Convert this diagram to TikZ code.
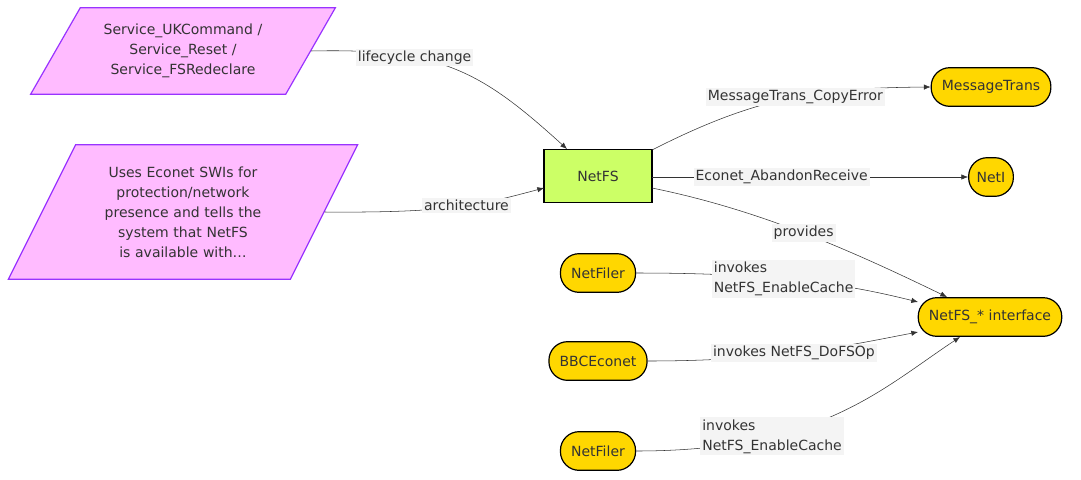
\documentclass[tikz,border=0pt]{standalone}
\usepackage{fontspec}
\setmainfont{DejaVu Sans}
\usetikzlibrary{shapes.geometric,arrows.meta}
\definecolor{pink}{HTML}{FFBBFF}
\definecolor{purple}{HTML}{9933FF}
\definecolor{lime}{HTML}{CCFF66}
\definecolor{gold}{HTML}{FFD700}
\definecolor{lbl}{HTML}{F4F4F4}
\definecolor{txt}{HTML}{333333}
\tikzset{
      para/.style = { trapezium, trapezium stretches body, draw=purple,
                      fill=pink, line width=0.9pt, align=center, text=txt, inner sep=2pt },
       box/.style = { draw, fill=lime, line width=0.9pt, minimum width=81pt, minimum height=40pt, text=txt },
      pill/.style = { draw, fill=gold, rounded corners=14pt, line width=0.9pt, minimum height=29pt, text=txt, inner xsep=8pt },
      edge/.style = { draw=txt, line width=0.4pt, -{Latex[length=5pt,width=4pt]} },
    elabel/.style = { fill=lbl, text=txt, inner sep=1.5pt, align=left }
}
\begin{document}
\begin{tikzpicture}[x=0.75pt, y=-0.75pt, font=\fontsize{10.5}{15}\selectfont]
  \useasboundingbox (0,0) rectangle (1081,479);
  % sources
  \node[para, minimum width=226pt, minimum height=65pt, text width=150pt,
        trapezium left angle=50, trapezium right angle=130] (ukcmd) at (183,51)
    {Service\_UKCommand /\\Service\_Reset /\\Service\_FSRedeclare};
  \node[para, minimum width=262pt, minimum height=101pt, text width=135pt,
        trapezium left angle=55, trapezium right angle=125] (econet) at (183,212)
    {Uses Econet SWIs for protection/network presence and tells the system that NetFS is available with…};
  \node[box] (netfs) at (598,176) {NetFS};
  % modules
  \node[pill] (msgtrans) at (991,87) {MessageTrans};
  \node[pill, inner xsep=6pt] (neti) at (991,177) {NetI};
  \node[pill] (iface) at (990,317) {NetFS\_* interface};
  \node[pill] (filer1) at (598,273) {NetFiler};
  \node[pill] (bbc) at (598,361) {BBCEconet};
  \node[pill] (filer2) at (598,451) {NetFiler};
  % connectors
  \path[edge] (ukcmd.east) .. controls (440,48) and (480,70) .. (567,149)
    node[elabel, pos=0.33] {lifecycle change};
  \path[edge] (econet.east) .. controls (450,213) and (480,205) .. (544,188)
    node[elabel, pos=0.55] {architecture};
  \path[edge] (652,150) .. controls (760,95) and (820,88) .. (msgtrans.west)
    node[elabel, pos=0.52] {MessageTrans\_CopyError};
  \path[edge] (652,177) -- (neti.west)
    node[elabel, pos=0.41] {Econet\_AbandonReceive};
  \path[edge] (652,188) .. controls (760,210) and (850,250) .. (947,297)
    node[elabel, pos=0.5] {provides};
  \path[edge] (filer1.east) .. controls (780,273) and (850,285) .. (918,302)
    node[elabel, pos=0.42] {invokes\\NetFS\_EnableCache};
  \path[edge] (bbc.east) .. controls (780,361) and (850,345) .. (918,332)
    node[elabel, pos=0.45] {invokes NetFS\_DoFSOp};
  \path[edge] (filer2.east) .. controls (820,451) and (880,390) .. (960,337)
    node[elabel, pos=0.3] {invokes\\NetFS\_EnableCache};
\end{tikzpicture}
\end{document}
